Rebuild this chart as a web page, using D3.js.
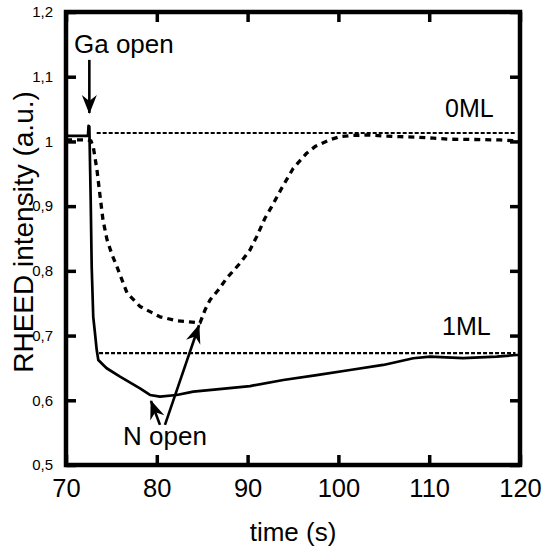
<!DOCTYPE html>
<html>
<head>
<meta charset="utf-8">
<script src="https://cdn.jsdelivr.net/npm/d3@7/dist/d3.min.js"></script>
<style>
  html, body { margin: 0; padding: 0; background: #fff; }
  svg { display: block; font-family: "Liberation Sans", Arial, Helvetica, sans-serif; }
</style>
</head>
<body>
<svg id="chart" width="542" height="550"></svg>
<script>
// ---- data ----
const xTicks = [70, 80, 90, 100, 110, 120];
const xTickLabels = ["70", "80", "90", "100", "110", "120"];
const yTicks = [0.5, 0.6, 0.7, 0.8, 0.9, 1.0, 1.1, 1.2];
const yTickLabels = ["0,5", "0,6", "0,7", "0,8", "0,9", "1", "1,1", "1,2"];

// solid curve (1ML) : time (s), intensity
const solidT = [70.0, 72.42, 72.48, 72.57, 72.72, 72.83, 73.0, 73.19, 73.38, 73.56, 74.11, 74.48, 75.95, 78.15, 79.25, 80.35, 82.19, 84.02, 86.6, 90.26, 93.93, 97.61, 101.28, 104.94, 108.25, 110.09, 113.72, 117.43, 119.64, 119.95, 120.0];
const solidI = [1.0085, 1.0085, 1.024, 1.023, 0.9096, 0.8065, 0.729, 0.704, 0.678, 0.6623, 0.6546, 0.6495, 0.6365, 0.6185, 0.6082, 0.6056, 0.6082, 0.6133, 0.617, 0.622, 0.6314, 0.639, 0.6468, 0.6546, 0.665, 0.6674, 0.665, 0.6674, 0.670, 0.670, 0.567];

// dashed curve (0ML)
const dashT = [70.0, 72.42, 72.75, 73.0, 73.41, 73.74, 74.07, 74.52, 75.07, 75.62, 76.72, 78.15, 80.35, 82.19, 84.76, 85.31, 85.86, 86.77, 87.7, 89.16, 90.26, 91.0, 91.91, 92.65, 93.75, 95.03, 96.51, 97.42, 98.34, 99.26, 100.18, 101.28, 103.12, 104.95, 106.78, 108.62, 110.45, 112.29, 115.0, 117.8, 119.7];
const dashI = [1.0023, 1.0023, 1.0008, 0.992, 0.956, 0.917, 0.879, 0.848, 0.825, 0.806, 0.766, 0.745, 0.729, 0.723, 0.7195, 0.7396, 0.755, 0.7705, 0.7886, 0.8117, 0.8323, 0.8529, 0.8813, 0.8992, 0.9277, 0.9586, 0.9818, 0.992, 0.998, 1.0034, 1.0074, 1.009, 1.010, 1.0085, 1.0074, 1.0065, 1.005, 1.0034, 1.003, 1.0023, 1.0008];

// reference levels
const refNames = ["0ML", "1ML"];
const refLevels = [1.013, 0.673];
const refStart = [73.38, 73.64];
const refEnd = 119.5;

// annotations (data units)
const annoTexts = ["Ga open", "N open"];
const gaLabelPos = [70.88, 1.137];
const nLabelPos = [76.28, 0.531];
const refLabelPos = [[111.74, 1.038], [111.41, 0.701]];
const arrows = [
  { from: [72.57, 1.126], to: [72.57, 1.044] },
  { from: [80.35, 0.562], to: [79.36, 0.599] },
  { from: [80.9, 0.562], to: [84.65, 0.716] }
];

// ---- layout ----
const svg = d3.select("#chart");
const mLeft = 66, mRight = 520, mTop = 12, mBottom = 465;
const x = d3.scaleLinear().domain([70, 120]).range([mLeft, mRight]);
const y = d3.scaleLinear().domain([0.5, 1.2]).range([mBottom, mTop]);

// arrow marker
const defs = svg.append("defs");
defs.append("marker")
  .attr("id", "arr")
  .attr("markerUnits", "userSpaceOnUse")
  .attr("viewBox", "-20 -9 22 18")
  .attr("refX", 0).attr("refY", 0)
  .attr("markerWidth", 22).attr("markerHeight", 18)
  .attr("orient", "auto")
  .append("path")
  .attr("d", "M1,0 L-18,-7.5 L-12,0 L-18,7.5 Z")
  .attr("fill", "#000");

// ticks (inward, all four sides)
const tickLen = 10;
const axB = d3.axisBottom(x).tickValues(xTicks).tickSize(-tickLen).tickPadding(14)
  .tickFormat((d, i) => xTickLabels[i]);
const axT = d3.axisTop(x).tickValues(xTicks).tickSize(-tickLen).tickFormat("");
const axL = d3.axisLeft(y).tickValues(yTicks).tickSize(-tickLen).tickPadding(13)
  .tickFormat((d, i) => yTickLabels[i]);
const axR = d3.axisRight(y).tickValues(yTicks).tickSize(-tickLen).tickFormat("");

function styleAxis(g, fs) {
  g.select(".domain").remove();
  g.selectAll(".tick line").attr("stroke", "#000").attr("stroke-width", 3.5);
  g.selectAll(".tick text").attr("fill", "#000").style("font-size", fs + "px")
    .style("font-family", '"Liberation Sans", Arial, sans-serif');
}
svg.append("g").attr("transform", `translate(0,${mBottom})`).call(axB).call(g => styleAxis(g, 25.5));
svg.append("g").attr("transform", `translate(0,${mTop})`).call(axT).call(g => styleAxis(g, 25));
svg.append("g").attr("transform", `translate(${mLeft},0)`).call(axL).call(g => styleAxis(g, 15));
svg.append("g").attr("transform", `translate(${mRight},0)`).call(axR).call(g => styleAxis(g, 15));

// reference lines
refLevels.forEach((lv, i) => {
  svg.append("line")
    .attr("x1", x(refStart[i])).attr("x2", x(refEnd))
    .attr("y1", y(lv)).attr("y2", y(lv))
    .attr("stroke", "#000").attr("stroke-width", 2.2)
    .attr("stroke-dasharray", "4,2");
  svg.append("text")
    .attr("x", x(refLabelPos[i][0])).attr("y", y(refLabelPos[i][1]))
    .style("font-size", "25px").attr("fill", "#000")
    .text(refNames[i]);
});

// curves
const line = d3.line().x(d => x(d[0])).y(d => y(d[1]));
const solid = solidT.map((t, i) => [t, solidI[i]]);
const dashed = dashT.map((t, i) => [t, dashI[i]]);

svg.append("path").datum(dashed).attr("d", line)
  .attr("fill", "none").attr("stroke", "#000").attr("stroke-width", 3.3)
  .attr("stroke-dasharray", "6,5").attr("stroke-linejoin", "round");
svg.append("path").datum(solid).attr("d", line)
  .attr("fill", "none").attr("stroke", "#000").attr("stroke-width", 2.7)
  .attr("stroke-linejoin", "round");

// frame
svg.append("rect").attr("x", mLeft).attr("y", mTop)
  .attr("width", mRight - mLeft).attr("height", mBottom - mTop)
  .attr("fill", "none").attr("stroke", "#000").attr("stroke-width", 4.5);

// arrows
arrows.forEach(a => {
  svg.append("line")
    .attr("x1", x(a.from[0])).attr("y1", y(a.from[1]))
    .attr("x2", x(a.to[0])).attr("y2", y(a.to[1]))
    .attr("stroke", "#000").attr("stroke-width", 2.6)
    .attr("marker-end", "url(#arr)");
});

// annotation texts
svg.append("text").attr("x", x(gaLabelPos[0])).attr("y", y(gaLabelPos[1]))
  .style("font-size", "26px").attr("fill", "#000").text(annoTexts[0]);
svg.append("text").attr("x", x(nLabelPos[0])).attr("y", y(nLabelPos[1]))
  .style("font-size", "26px").attr("fill", "#000").text(annoTexts[1]);

// axis titles
svg.append("text")
  .attr("x", (mLeft + mRight) / 2).attr("y", 541)
  .attr("text-anchor", "middle").style("font-size", "26px").attr("fill", "#000")
  .text("time (s)");
svg.append("text")
  .attr("transform", `translate(33,232) rotate(-90)`)
  .attr("text-anchor", "middle").style("font-size", "28px").attr("fill", "#000")
  .text("RHEED intensity (a.u.)");
</script>
</body>
</html>
